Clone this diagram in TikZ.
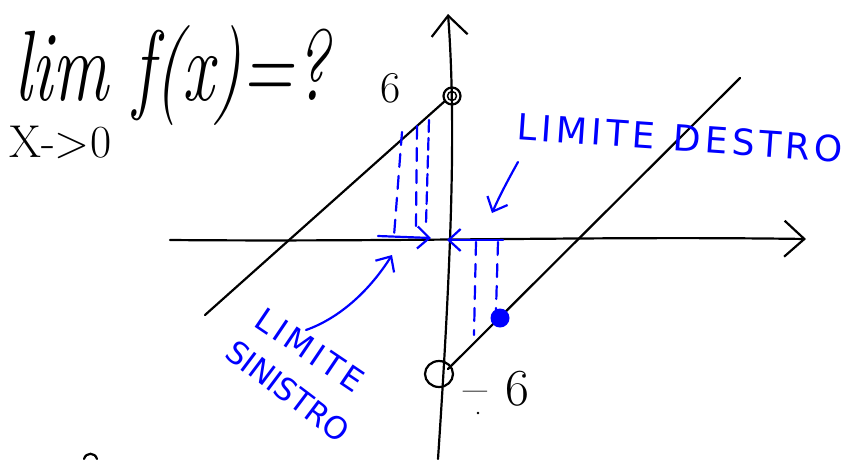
\documentclass[tikz,border=0pt]{standalone}
\usepackage{fontspec}
\newfontfamily\hand{DejaVu Sans}
\newfontfamily\handsp[LetterSpace=12]{DejaVu Sans}
\usetikzlibrary{arrows.meta}
\definecolor{pen}{RGB}{0,0,255}
\tikzset{
  ink/.style={line width=2.2pt, black, line cap=round, line join=round},
  bink/.style={line width=2.2pt, pen, line cap=round, line join=round},
  bdash/.style={bink, dash pattern=on 13pt off 9pt},
  barb/.style={-{Straight Barb[length=12pt,width=22pt,line width=2.2pt]}},
  bigbarb/.style={-{Straight Barb[length=20pt,width=36pt,line width=2.2pt]}},
  btext/.style={text=pen, inner sep=0pt},
  ktext/.style={text=black, inner sep=0pt}
}
\begin{document}
\begin{tikzpicture}[x=1pt,y=-1pt]
\useasboundingbox (0,0) rectangle (855,459);
% title
\node[ktext, anchor=base west, xscale=0.7, font=\itshape\fontsize{100}{100}\selectfont] (title) at (14,100) {lim f(x)=?};
\node[ktext, anchor=west, font=\fontsize{46}{46}\selectfont] (sub) at (9,142) {X->0};
% axes
\coordinate (ybot) at (438,459);
\coordinate (ytop) at (448,14);
\coordinate (xl) at (170,240);
\coordinate (xr) at (806,239);
\draw[ink, bigbarb] (ybot) .. controls (452,250) and (456,120) .. (ytop);
\draw[ink, bigbarb] (xl) .. controls (400,242) and (600,236) .. (xr);
% left branch with open circle at 6
\coordinate (o6) at (452,96);
\coordinate (l0) at (205,315);
\draw[ink] (l0) -- (445,101);
\draw[ink] (o6) circle (8.5);
\draw[ink, line width=1.5pt] (o6) circle (4.5);
\node[ktext, font=\fontsize{44}{44}\selectfont] (six) at (391,88) {6};
% right branch with open circle at -6 and closed dot
\coordinate (om6) at (439,374);
\coordinate (r1) at (740,78);
\draw[ink] (om6) ellipse (14 and 13);
\draw[ink] (448,369) -- (r1);
\node[ktext, anchor=base west, font=\fontsize{52}{52}\selectfont] (msix) at (463,405) {--\hspace{0.35em}6};
\fill[black] (478,413) circle (1.4);
\coordinate (dot) at (500,318);
\fill[pen] (dot) circle (9.5);
% blue dashed guides
\draw[bdash] (402,132) -- (394,236);
\draw[bdash] (417,126) -- (416,226);
\draw[bink, dash pattern=on 12pt off 6pt] (429,120) -- (426,224);
\draw[bdash] (476,242) -- (474,335);
\draw[bdash] (498,242) -- (496,310);
% arrows on x-axis
\coordinate (la) at (431,238);
\coordinate (ra) at (447,240);
\draw[bink, barb] (378,236) -- (la);
\draw[bink, barb] (503,240) -- (ra);
% labels
\node[btext, rotate=-4, font=\handsp\fontsize{36}{36}\selectfont] (dx) at (680,138) {LIMITE\hspace{0.5em}DESTRO};
\draw[bink, barb] (518,162) .. controls (508,180) and (500,195) .. (492,213);
\node[btext, rotate=-34, font=\handsp\fontsize{32}{32}\selectfont] (sxa) at (310,350) {LIMITE};
\node[btext, rotate=-37, font=\hand\fontsize{31}{31}\selectfont] (sxb) at (288,391) {SINISTRO};
\draw[bink, barb] (306,330) .. controls (340,318) and (370,290) .. (392,255);
% stray mark
\draw[ink] (84,459) .. controls (86,452) and (95,452) .. (97,459);
\end{tikzpicture}
\end{document}
